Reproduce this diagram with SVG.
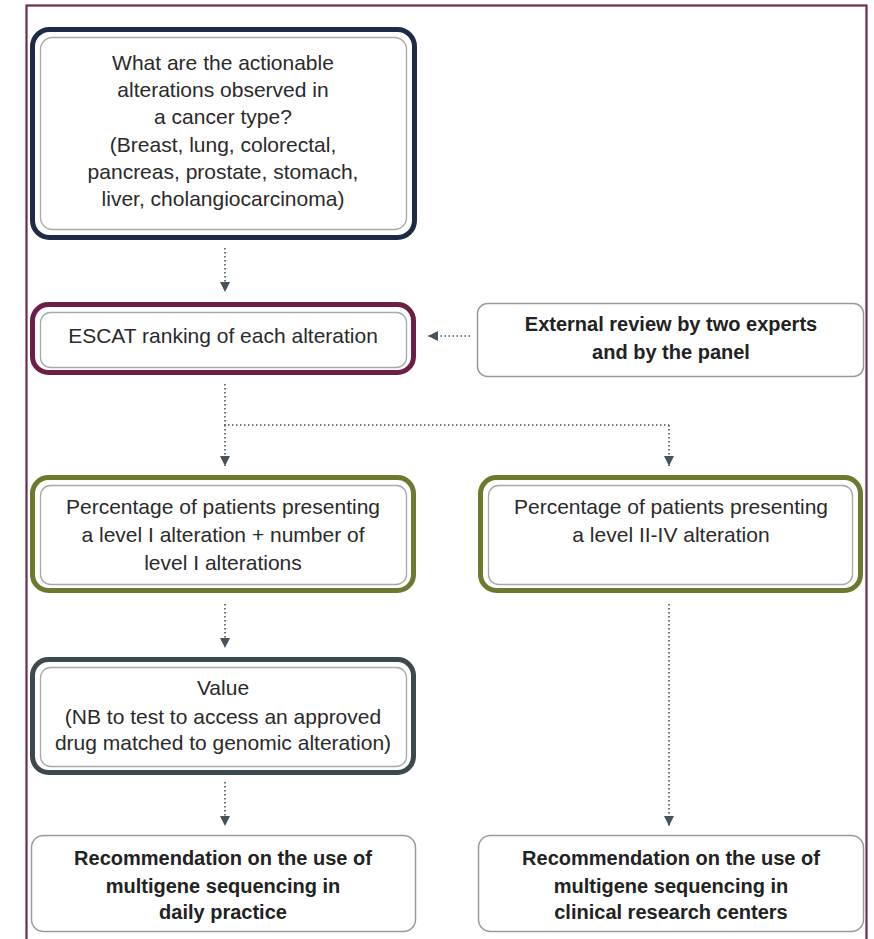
<svg xmlns="http://www.w3.org/2000/svg" width="874" height="939" viewBox="0 0 874 939">
<style>
.t{font-family:"Liberation Sans",Arial,sans-serif;font-size:21px;fill:#2a2a2a;text-anchor:middle}
.b{font-family:"Liberation Sans",Arial,sans-serif;font-size:20px;font-weight:bold;fill:#222;text-anchor:middle}
.inner{fill:#fff;stroke:#a8a8a8;stroke-width:1.3}
.thick{fill:#fff;stroke-width:5}
.thin{fill:#fff;stroke:#9a9a9a;stroke-width:1.5}
.con{fill:none;stroke:#46525c;stroke-width:1.6;stroke-dasharray:1.5 2.5;marker-end:url(#ah)}
.seg{fill:none;stroke:#46525c;stroke-width:1.6;stroke-dasharray:1.5 2.5}
</style>
<defs>
<marker id="ah" viewBox="0 0 10 10" refX="10" refY="5" markerWidth="10" markerHeight="10" markerUnits="userSpaceOnUse" orient="auto">
<path d="M0,0 L10,5 L0,10 z" fill="#46525c"/>
</marker>
</defs>
<rect x="0" y="0" width="874" height="939" fill="#fff"/>
<rect id="frame" x="26.5" y="5.5" width="840" height="960" fill="none" stroke="#6a2c50" stroke-width="2.2"/>

<g id="connectors">
<path class="con" d="M225,248 V292"/>
<path class="con" d="M470,336 H428"/>
<path class="seg" d="M225,384 V425 H669"/>
<path class="con" d="M225,425 V466"/>
<path class="con" d="M669,425 V466"/>
<path class="con" d="M225,604 V648"/>
<path class="con" d="M225,782 V826"/>
<path class="con" d="M669,604 V826"/>
</g>

<g id="question">
<rect class="thick" x="32.5" y="29.5" width="382" height="208" rx="17" stroke="#1d2b45"/>
<rect class="inner" x="40.5" y="37.5" width="366" height="192" rx="12"/>
<text class="t" x="223" y="70">What are the actionable</text>
<text class="t" x="223" y="97">alterations observed in</text>
<text class="t" x="223" y="124">a cancer type?</text>
<text class="t" x="223" y="152">(Breast, lung, colorectal,</text>
<text class="t" x="223" y="179">pancreas, prostate, stomach,</text>
<text class="t" x="223" y="206">liver, cholangiocarcinoma)</text>
</g>

<g id="escat">
<rect class="thick" x="32.5" y="304.5" width="381" height="68" rx="16" stroke="#6b1f47"/>
<rect class="inner" x="40.5" y="312.5" width="366" height="55" rx="10"/>
<text class="t" x="223" y="343">ESCAT ranking of each alteration</text>
</g>

<g id="external">
<rect class="thin" x="477.5" y="303.5" width="386" height="73" rx="10"/>
<text class="b" x="671" y="331">External review by two experts</text>
<text class="b" x="671" y="359">and by the panel</text>
</g>

<g id="level1">
<rect class="thick" x="32.5" y="477.5" width="381" height="113" rx="16" stroke="#6b7a2e"/>
<rect class="inner" x="40.5" y="485.5" width="366" height="99" rx="10"/>
<text class="t" x="223" y="514">Percentage of patients presenting</text>
<text class="t" x="223" y="542">a level I alteration + number of</text>
<text class="t" x="223" y="570">level I alterations</text>
</g>

<g id="level2">
<rect class="thick" x="480.5" y="477.5" width="380" height="113" rx="16" stroke="#6b7a2e"/>
<rect class="inner" x="488.5" y="485.5" width="364" height="99" rx="10"/>
<text class="t" x="671" y="514">Percentage of patients presenting</text>
<text class="t" x="671" y="542">a level II-IV alteration</text>
</g>

<g id="value">
<rect class="thick" x="32.5" y="659.5" width="381" height="113" rx="16" stroke="#3c494f"/>
<rect class="inner" x="40.5" y="667.5" width="366" height="99" rx="10"/>
<text class="t" x="223" y="695">Value</text>
<text class="t" x="223" y="724">(NB to test to access an approved</text>
<text class="t" x="223" y="750">drug matched to genomic alteration)</text>
</g>

<g id="rec-daily">
<rect class="thin" x="31.5" y="835.5" width="384" height="96" rx="12"/>
<text class="b" x="223" y="865">Recommendation on the use of</text>
<text class="b" x="223" y="893">multigene sequencing in</text>
<text class="b" x="223" y="919">daily practice</text>
</g>

<g id="rec-research">
<rect class="thin" x="478.5" y="835.5" width="385" height="96" rx="12"/>
<text class="b" x="671" y="865">Recommendation on the use of</text>
<text class="b" x="671" y="893">multigene sequencing in</text>
<text class="b" x="671" y="919">clinical research centers</text>
</g>
</svg>
